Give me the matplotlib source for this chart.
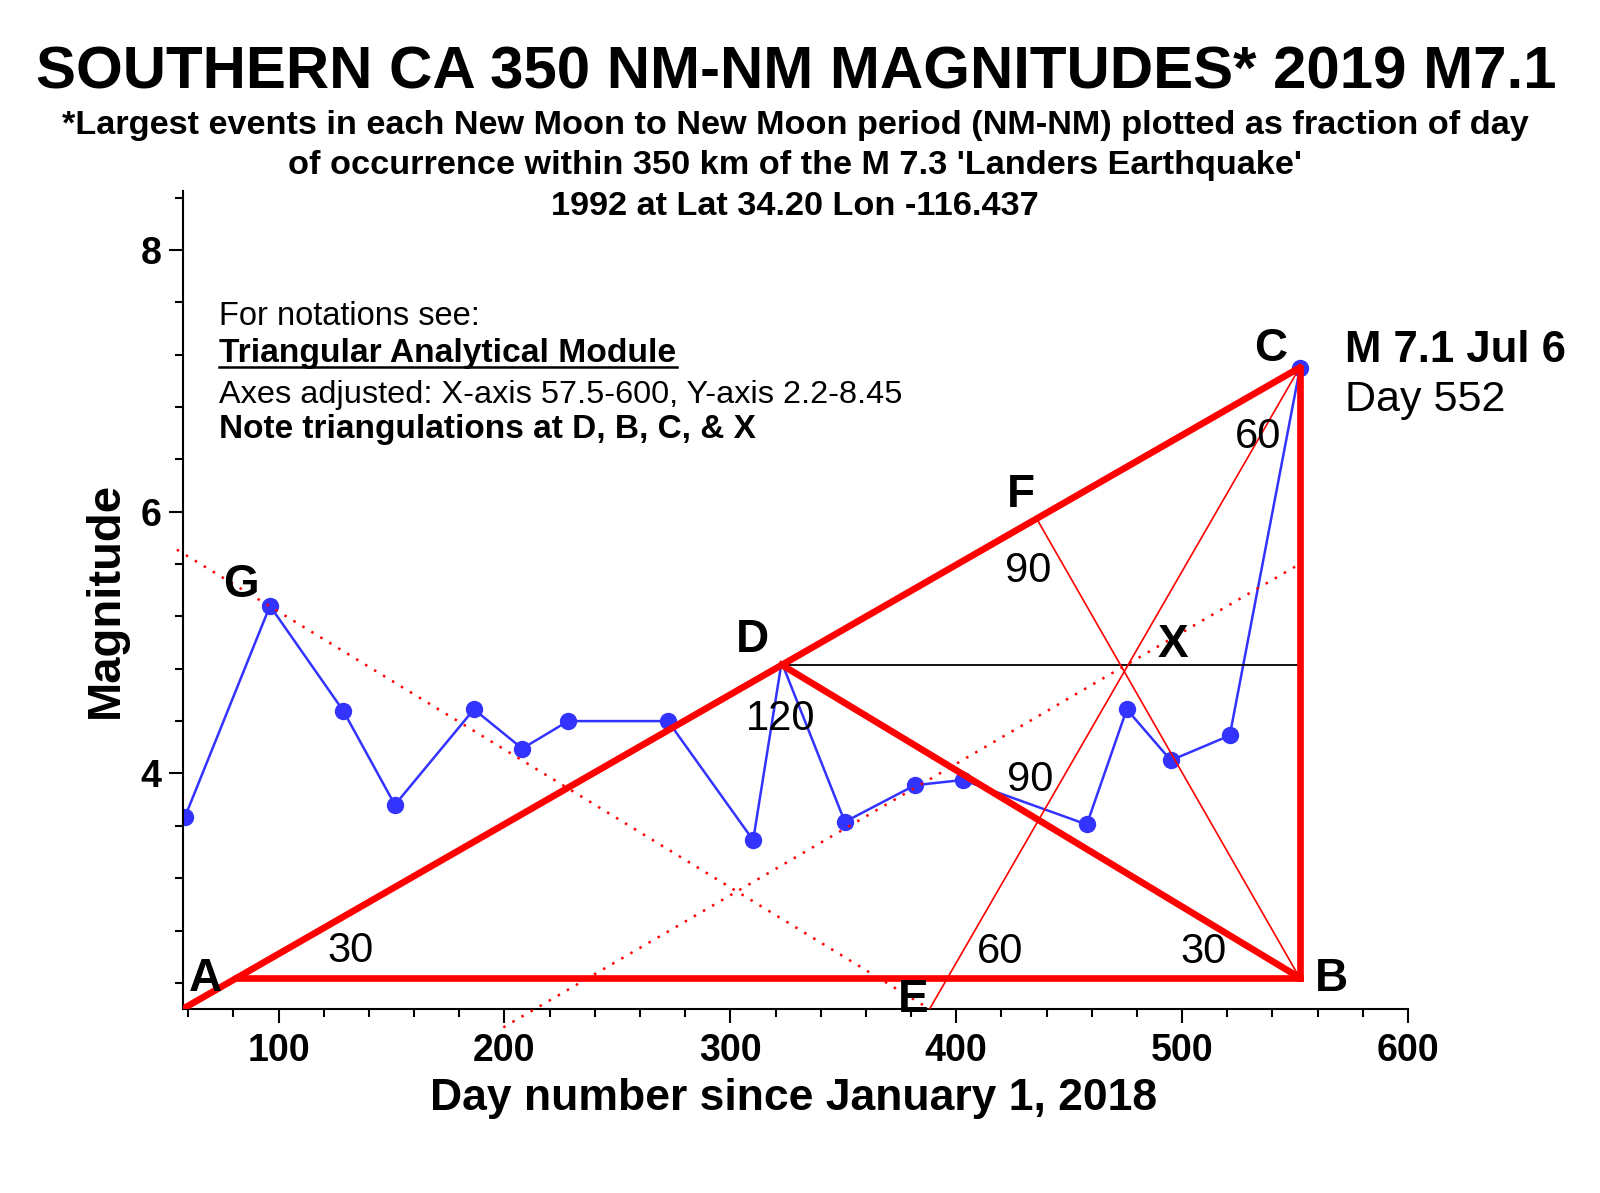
import matplotlib
matplotlib.use('Agg')
import matplotlib.pyplot as plt
from matplotlib.ticker import MultipleLocator
from matplotlib.lines import Line2D

plt.rcParams['font.family'] = ['Liberation Sans', 'DejaVu Sans']

# largest event per NM-NM period: day number since Jan 1 2018, magnitude
day = [58.6, 96.2, 128.6, 151.5, 186.5, 207.9, 228.2, 272.4, 310.1, 322.7,
       350.7, 381.7, 402.9, 457.8, 475.5, 495.0, 521.1, 552.2]
mag = [3.67, 5.28, 4.48, 3.76, 4.49, 4.19, 4.40, 4.40, 3.49, 4.85,
       3.63, 3.91, 3.95, 3.61, 4.49, 4.10, 4.29, 7.10]

# triangle construction (day, magnitude)
ac_x, ac_y = [57.5, 552.0], [2.2, 7.10]
ab_x, ab_y = [81.7, 552.0], [2.44, 2.44]
bc_x, bc_y = [552.0, 552.0], [2.44, 7.10]
db_x, db_y = [322.7, 552.0], [4.83, 2.44]
dh_x, dh_y = [322.7, 552.0], [4.83, 4.83]
ce_x, ce_y = [552.0, 388.2], [7.10, 2.2]
fb_x, fb_y = [435.5, 552.0], [5.95, 2.44]
ge_x, ge_y = [55.0, 388.2], [5.71, 2.2]
xp_x, xp_y = [199.5, 552.0], [2.06, 5.60]

point_names = ['A', 'B', 'C', 'D', 'E', 'F', 'G', 'X']
point_x = [67.4, 566.1, 539.0, 310.0, 380.9, 428.4, 83.3, 496.1]
point_y = [2.43, 2.43, 7.24, 5.02, 2.27, 6.13, 5.44, 4.98]

angle_text = ['30', '60', '90', '120', '90', '60', '30']
angle_x = [132.0, 533.5, 432.0, 322.2, 432.9, 419.4, 509.6]
angle_y = [2.645, 6.574, 5.545, 4.414, 3.947, 2.637, 2.637]

fig = plt.figure(figsize=(16, 11.93), dpi=100)
ax = fig.add_axes([0.1141, 0.1542, 0.7659, 0.6857])

ax.plot(day, mag, color='#3333ff', lw=1.8, marker='o', ms=11.5,
        markevery=[i for i in range(len(day)) if i != 9], zorder=2)

red = '#ff0000'
for xs, ys in [(ac_x, ac_y), (ab_x, ab_y), (bc_x, bc_y), (db_x, db_y)]:
    ax.plot(xs, ys, color=red, lw=4.8, zorder=4)
ax.plot(dh_x, dh_y, color='black', lw=1.3, zorder=3)
ax.plot(ce_x, ce_y, color=red, lw=1.2, zorder=3)
ax.plot(fb_x, fb_y, color=red, lw=1.2, zorder=3)
ax.plot(ge_x, ge_y, color=red, lw=1.8, ls=(0, (1, 3.2)), zorder=3, clip_on=False)
ax.plot(xp_x, xp_y, color=red, lw=1.8, ls=(0, (1, 3.2)), zorder=3, clip_on=False)

for n, x, y in zip(point_names, point_x, point_y):
    ax.text(x, y, n, fontsize=33, fontweight='bold', ha='center', va='center', zorder=6)
for t, x, y in zip(angle_text, angle_x, angle_y):
    ax.text(x, y, t, fontsize=30, ha='center', va='center', zorder=6)

ax.text(572, 7.144, 'M 7.1 Jul 6', fontsize=31.5, fontweight='bold', ha='left', va='baseline')
ax.text(572, 6.77, 'Day 552', fontsize=31, ha='left', va='baseline')

ax.text(73.8, 7.43, 'For notations see:', fontsize=23.5, va='baseline')
tam = ax.text(73.8, 7.14, 'Triangular Analytical Module', fontsize=24.2,
              fontweight='bold', va='baseline')
ax.text(73.8, 6.83, 'Axes adjusted: X-axis 57.5-600, Y-axis 2.2-8.45', fontsize=23.4, va='baseline')
ax.text(73.8, 6.56, 'Note triangulations at D, B, C, & X', fontsize=24.0,
        fontweight='bold', va='baseline')

ax.set_xlim(57.5, 600)
ax.set_ylim(2.2, 8.45)
ax.spines['top'].set_visible(False)
ax.spines['right'].set_visible(False)
ax.spines['left'].set_linewidth(1.5)
ax.spines['bottom'].set_linewidth(1.5)
ax.set_xticks([100, 200, 300, 400, 500, 600])
ax.set_yticks([4, 6, 8])
ax.xaxis.set_minor_locator(MultipleLocator(20))
ax.yaxis.set_minor_locator(MultipleLocator(0.4))
ax.tick_params(which='major', length=10, width=1.5, labelsize=27)
ax.tick_params(which='minor', length=6, width=1.5)
ax.tick_params(axis='x', which='major', pad=7)
ax.tick_params(axis='y', which='major', pad=5)
plt.setp(ax.get_xticklabels() + ax.get_yticklabels(), fontweight='bold')

fig.text(0.4975, 0.926, "SOUTHERN CA 350 NM-NM MAGNITUDES* 2019 M7.1",
         fontsize=43.2, fontweight='bold', ha='center', va='baseline')
subtitle = ["*Largest events in each New Moon to New Moon period (NM-NM) plotted as fraction of day",
            "of occurrence within 350 km of the M 7.3 'Landers Earthquake'",
            "1992 at Lat 34.20 Lon -116.437"]
for i, s in enumerate(subtitle):
    fig.text(0.497, 0.888 - i * 0.0342, s, fontsize=24.7, fontweight='bold',
             ha='center', va='baseline')

fig.text(0.496, 0.0696, 'Day number since January 1, 2018', fontsize=32,
         fontweight='bold', ha='center', va='baseline')
fig.text(0.066, 0.4975, 'Magnitude', fontsize=34, fontweight='bold',
         rotation=90, ha='center', va='center')

# underline for the module title
fig.canvas.draw()
bb = tam.get_window_extent().transformed(fig.transFigure.inverted())
fig.add_artist(Line2D([bb.x0, bb.x1], [bb.y0 + 0.002, bb.y0 + 0.002],
                      color='black', lw=1.8, transform=fig.transFigure))

fig.savefig('out.png', dpi=100)
